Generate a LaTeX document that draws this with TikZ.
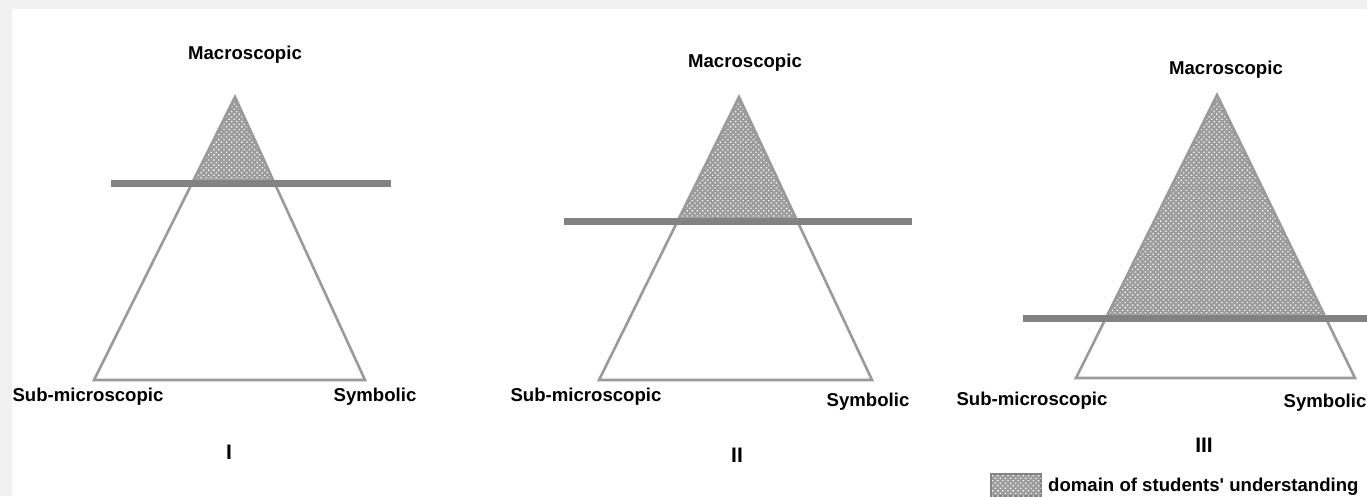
\documentclass[tikz,border=0pt]{standalone}
\usepackage{fontspec}
\setmainfont{Liberation Sans}
\usetikzlibrary{patterns.meta}
\definecolor{edgegray}{HTML}{9A9A9A}
\definecolor{bargray}{HTML}{828282}
\definecolor{fillgray}{HTML}{9C9C9C}
\definecolor{bordergray}{HTML}{F0F0F0}
\tikzset{
  lbl/.style={font=\bfseries\fontsize{18.6}{22}\selectfont, inner sep=0pt},
  num/.style={font=\bfseries\fontsize{21}{25}\selectfont, inner sep=0pt},
  tri/.style={draw=edgegray, line width=2.6pt, line join=miter},
  bar/.style={draw=bargray, line width=7pt},
  dom/.style={fill=fillgray, postaction={pattern={Dots[distance=3.6pt, radius=0.95pt, angle=45]}, pattern color=white!92!gray}},
}
\begin{document}
\begin{tikzpicture}[x=1pt,y=-1pt]
\fill[bordergray] (0,0) rectangle (1367,496);
\fill[white] (12,9) rectangle (1367,496);
\useasboundingbox (0,0) rectangle (1367,496);
% ---------- I
\coordinate (Ia) at (235,97);
\coordinate (Il) at (94,380);
\coordinate (Ir) at (365,380);
\begin{scope}
\clip (0,0) rectangle (1367,183);
\path[dom] (Ia) -- (Il) -- (Ir) -- cycle;
\end{scope}
\draw[tri] (Ia) -- (Il) -- (Ir) -- cycle;
\coordinate (Ib1) at (111,183);
\coordinate (Ib2) at (391,183);
\draw[bar] (Ib1) -- (Ib2);
\node[lbl] (Imac) at (245,55) {Macroscopic};
\node[lbl] (Isub) at (88,397) {Sub-microscopic};
\node[lbl] (Isym) at (375,397) {Symbolic};
\node[num] (Inum) at (229,452) {I};
% ---------- II
\coordinate (IIa) at (739,97);
\coordinate (IIl) at (599,380);
\coordinate (IIr) at (872,380);
\begin{scope}
\clip (0,0) rectangle (1367,221);
\path[dom] (IIa) -- (IIl) -- (IIr) -- cycle;
\end{scope}
\draw[tri] (IIa) -- (IIl) -- (IIr) -- cycle;
\coordinate (IIb1) at (564,221);
\coordinate (IIb2) at (912,221);
\draw[bar] (IIb1) -- (IIb2);
\node[lbl] (IImac) at (745,63) {Macroscopic};
\node[lbl] (IIsub) at (586,397) {Sub-microscopic};
\node[lbl] (IIsym) at (868,402) {Symbolic};
\node[num] (IInum) at (737,455) {II};
% ---------- III
\coordinate (IIIa) at (1217,95);
\coordinate (IIIl) at (1076,378);
\coordinate (IIIr) at (1355,378);
\begin{scope}
\clip (0,0) rectangle (1367,318);
\path[dom] (IIIa) -- (IIIl) -- (IIIr) -- cycle;
\end{scope}
\draw[tri] (IIIa) -- (IIIl) -- (IIIr) -- cycle;
\coordinate (IIIb1) at (1023,318);
\coordinate (IIIb2) at (1367,318);
\draw[bar] (IIIb1) -- (IIIb2);
\node[lbl] (IIImac) at (1226,70) {Macroscopic};
\node[lbl] (IIIsub) at (1032,401) {Sub-microscopic};
\node[lbl] (IIIsym) at (1325,403) {Symbolic};
\node[num] (IIInum) at (1204,445) {III};
% ---------- legend
\path[dom, draw=bargray, line width=1.2pt] (991,474) rectangle (1041,496);
\node[lbl, anchor=west] (leg) at (1048,487) {domain of students\textquotesingle\ understanding};
\end{tikzpicture}
\end{document}
